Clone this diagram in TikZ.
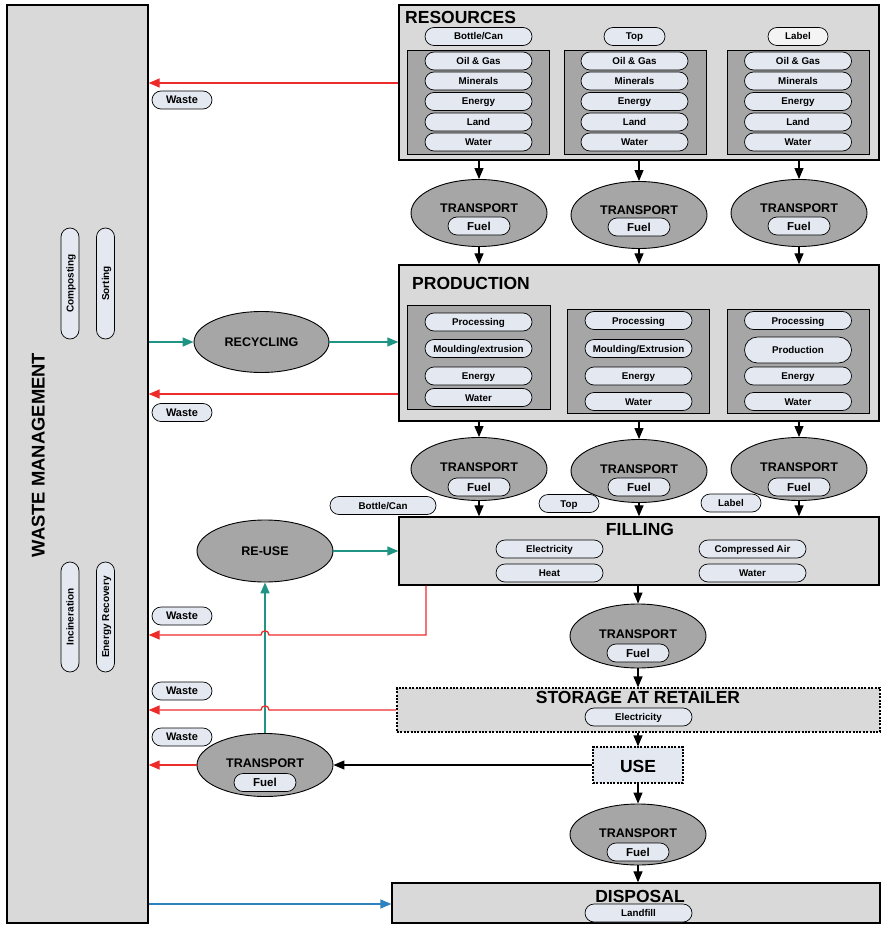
\documentclass[tikz,border=0pt]{standalone}
\usepackage{fontspec}
\setmainfont{Liberation Sans}
\usetikzlibrary{shapes.misc,shapes.geometric,arrows.meta}

\definecolor{boxfill}{HTML}{D9D9D9}
\definecolor{subfill}{HTML}{A6A6A6}
\definecolor{pillfill}{HTML}{E3E8F1}
\definecolor{palefill}{HTML}{F4F4F4}
\definecolor{tealc}{HTML}{1F9485}
\definecolor{redc}{HTML}{EE2B2B}
\definecolor{bluec}{HTML}{2E82BE}

\tikzset{
  stage/.style={draw, fill=boxfill, line width=1.3pt, inner sep=0pt},
  stagedot/.style={draw, fill=boxfill, line width=1.2pt, inner sep=0pt, dash pattern=on 2pt off 1.4pt},
  group/.style={draw, fill=subfill, line width=0.9pt, inner sep=0pt},
  pill/.style={rounded rectangle, draw, fill=pillfill, line width=0.7pt,
    minimum height=18pt, inner sep=0pt,
    font=\fontsize{9.8}{10}\selectfont\bfseries, text height=7pt, text depth=0pt},
  wastetag/.style={pill, minimum width=60pt, font=\fontsize{11}{12}\selectfont\bfseries, text height=7.9pt},
  vpill/.style={pill, rotate=90, font=\fontsize{10}{11}\selectfont\bfseries, text height=7.2pt},
  title/.style={inner sep=0pt, font=\fontsize{17.5}{18}\selectfont\bfseries, text height=12.5pt, text depth=0pt},
  carrier/.style={ellipse, draw, fill=subfill, line width=0.9pt, inner sep=0pt, minimum width=136pt, minimum height=63pt},
  carrierlabel/.style={inner sep=0pt, font=\fontsize{12.5}{13}\selectfont\bfseries, text height=9pt, text depth=0pt},
  tip/.style={-{Triangle[length=11pt,width=9pt]}},
  flow/.style={tip, line width=1.2pt},
  wasteflow/.style={tip, draw=redc, line width=1.3pt},
  loopflow/.style={tip, draw=tealc, line width=1.5pt},
  dumpflow/.style={tip, draw=bluec, line width=1.3pt},
}

% rectangle node from its two corners: name, style, x1, y1, x2, y2
\newcommand{\mkbox}[6]{%
  \node[#2, minimum width={#5-#3}, minimum height={#6-#4}] (#1) at ({(#3+#5)/2},{(#4+#6)/2}) {};}

% transport ellipse: name, x, y, height, label offset, fuel offset
\newcommand{\transportnode}[6]{%
  \node[carrier, minimum height=#4] (#1) at (#2,#3) {};
  \node[carrierlabel] (#1-t) at ({#2},{#3+(#5)}) {TRANSPORT};
  \node[pill, minimum width=62pt, font=\fontsize{11.5}{12}\selectfont\bfseries, text height=8.3pt] (#1-f) at ({#2},{#3+(#6)}) {Fuel};}

\begin{document}
\begin{tikzpicture}[x=1pt,y=-1pt]
\useasboundingbox (0,0) rectangle (882,925);

% ---------- waste management column ----------
\mkbox{wm}{stage}{7}{5}{148}{923}
\node[rotate=90, inner sep=0pt, font=\fontsize{18.4}{19}\selectfont\bfseries, text height=13.2pt, text depth=0pt] (wmt) at (38,455) {WASTE MANAGEMENT};
\node[vpill, minimum width=111pt] (comp) at (70,283.5) {Composting};
\node[vpill, minimum width=111pt] (sort) at (105.5,283.5) {Sorting};
\node[vpill, minimum width=110pt] (inci) at (70,617) {Incineration};
\node[vpill, minimum width=110pt] (erec) at (105.5,617) {Energy Recovery};

% ---------- resources ----------
\mkbox{res}{stage}{399}{5}{879}{160}
\node[title, anchor=west] (rest) at (405,17) {RESOURCES};
\node[pill, minimum width=107pt] (rb) at (478.5,36.5) {Bottle/Can};
\node[pill, minimum width=61pt] (rt) at (634.5,36.5) {Top};
\node[pill, minimum width=60pt, fill=palefill] (rl) at (798,36.5) {Label};
\mkbox{r1}{group}{407}{50}{549}{154}
\mkbox{r2}{group}{564}{50}{706}{154}
\mkbox{r3}{group}{727}{50}{869}{154}
\foreach \c/\x in {1/478.5,2/634.5,3/798}{
  \node[pill, minimum width=107pt] (r\c a) at (\x,61) {Oil \& Gas};
  \node[pill, minimum width=107pt] (r\c b) at (\x,81) {Minerals};
  \node[pill, minimum width=107pt] (r\c c) at (\x,101.5) {Energy};
  \node[pill, minimum width=107pt] (r\c d) at (\x,122) {Land};
  \node[pill, minimum width=107pt] (r\c e) at (\x,142) {Water};
}

% ---------- first transport row ----------
\transportnode{t11}{479}{213}{67pt}{-5}{13}
\transportnode{t12}{639}{215}{67pt}{-5}{12}
\transportnode{t13}{799}{213}{67pt}{-5}{13}

% ---------- production ----------
\mkbox{prod}{stage}{399}{265}{879}{421}
\node[title, anchor=west] (prodt) at (412,283) {PRODUCTION};
\mkbox{p1}{group}{407}{305}{550}{409}
\mkbox{p2}{group}{567}{309}{709}{413}
\mkbox{p3}{group}{727}{309}{869}{413}
\node[pill, minimum width=107pt] (p1a) at (478.5,322) {Processing};
\node[pill, minimum width=107pt] (p1b) at (478.5,348.5) {Moulding/extrusion};
\node[pill, minimum width=107pt] (p1c) at (478.5,376) {Energy};
\node[pill, minimum width=107pt] (p1d) at (478.5,397.5) {Water};
\node[pill, minimum width=107pt] (p2a) at (638.5,320.5) {Processing};
\node[pill, minimum width=107pt] (p2b) at (638.5,348.5) {Moulding/Extrusion};
\node[pill, minimum width=107pt] (p2c) at (638.5,376) {Energy};
\node[pill, minimum width=107pt] (p2d) at (638.5,401.5) {Water};
\node[pill, minimum width=107pt] (p3a) at (798,320.5) {Processing};
\node[pill, minimum width=107pt, minimum height=26pt] (p3b) at (798,350) {Production};
\node[pill, minimum width=107pt] (p3c) at (798,376) {Energy};
\node[pill, minimum width=107pt] (p3d) at (798,401.5) {Water};

% ---------- second transport row ----------
\transportnode{t21}{479}{469}{63pt}{-2}{18}
\transportnode{t22}{639}{471}{63pt}{-2}{16}
\transportnode{t23}{799}{469}{63pt}{-2}{18}
\node[pill, minimum width=106pt] (fb) at (383,505.5) {Bottle/Can};
\node[pill, minimum width=60pt] (ft) at (569,503.5) {Top};
\node[pill, minimum width=60pt] (fl) at (731,503) {Label};

% ---------- filling ----------
\mkbox{fill}{stage}{399}{517}{879}{585}
\node[title] (fillt) at (640,529.5) {FILLING};
\node[pill, minimum width=107pt] (fe) at (549.5,549) {Electricity};
\node[pill, minimum width=107pt] (fa) at (752.5,549) {Compressed Air};
\node[pill, minimum width=107pt] (fh) at (549.5,573) {Heat};
\node[pill, minimum width=107pt] (fw) at (752.5,573) {Water};

% ---------- loops back ----------
\node[carrier, minimum width=135pt, minimum height=61pt] (rec) at (261.5,342) {};
\node[carrierlabel] (rect) at (261.5,342) {RECYCLING};
\node[carrier, minimum width=136pt, minimum height=62pt] (reuse) at (265,551) {};
\node[carrierlabel] (reuset) at (265,551) {RE-USE};

% ---------- distribution ----------
\transportnode{t3}{638}{636}{64pt}{-2}{17}
\mkbox{stor}{stagedot}{397}{688}{880}{732}
\node[title] (stort) at (638,697) {STORAGE AT RETAILER};
\node[pill, minimum width=107pt] (se) at (638.5,717) {Electricity};
\mkbox{use}{stagedot, fill=pillfill}{593}{747}{683}{783}
\path (use) ++(0,1.5) node[title] (uset) {USE};
\transportnode{t4}{638}{834.5}{61pt}{-1.5}{17.5}
\transportnode{t5}{265}{765}{63pt}{-2.5}{17.5}

% ---------- disposal ----------
\mkbox{disp}{stage}{392}{883}{880}{923}
\node[title] (dispt) at (640,896) {DISPOSAL};
\node[pill, minimum width=107pt] (dl) at (638.5,913) {Landfill};

% ---------- waste tags ----------
\node[wastetag] (w1) at (182,100) {Waste};
\node[wastetag] (w2) at (182,412.5) {Waste};
\node[wastetag] (w3) at (182,616) {Waste};
\node[wastetag] (w4) at (182,691) {Waste};
\node[wastetag] (w5) at (182,737) {Waste};

% ---------- main flow ----------
\foreach \t in {t11,t12,t13}{
  \draw[flow] (\t |- res.south) -- (\t.north);
  \draw[flow] (\t.south) -- (\t.south |- prod.north);
}
\foreach \t in {t21,t22,t23}{
  \draw[flow] (\t |- prod.south) -- (\t.north);
  \draw[flow] (\t.south) -- (\t.south |- fill.north);
}
\draw[flow] (t3 |- fill.south) -- (t3.north);
\draw[flow] (t3.south) -- (t3.south |- stor.north);
\draw[flow] (use |- stor.south) -- (use.north);
\draw[flow] (use.south) -- (t4.north);
\draw[flow] (t4.south) -- (t4.south |- disp.north);
\draw[flow] (use.west) -- (t5.east);

% ---------- recycling and re-use ----------
\draw[loopflow] (wm.east |- rec.west) -- (rec.west);
\draw[loopflow] (rec.east) -- (rec.east -| prod.west);
\draw[loopflow] (reuse.east) -- (reuse.east -| fill.west);
\draw[loopflow] (t5.north) -- (reuse.south);

% ---------- waste streams (hopping over the re-use line) ----------
\draw[wasteflow] (res.west |- 0,83) -- (wm.east |- 0,83);
\draw[wasteflow] (prod.west |- 0,394) -- (wm.east |- 0,394);
\draw[wasteflow] (426,0 |- fill.south) -- (426,635) -- (269,635)
  .. controls (269,629.5) and (261,629.5) .. (261,635) -- (wm.east |- 0,635);
\draw[wasteflow] (stor.west |- 0,710) -- (269,710)
  .. controls (269,704.5) and (261,704.5) .. (261,710) -- (wm.east |- 0,710);
\draw[wasteflow] (t5.west) -- (t5.west -| wm.east);
\draw[dumpflow] (wm.east |- 0,904) -- (disp.west |- 0,904);
\end{tikzpicture}
\end{document}
